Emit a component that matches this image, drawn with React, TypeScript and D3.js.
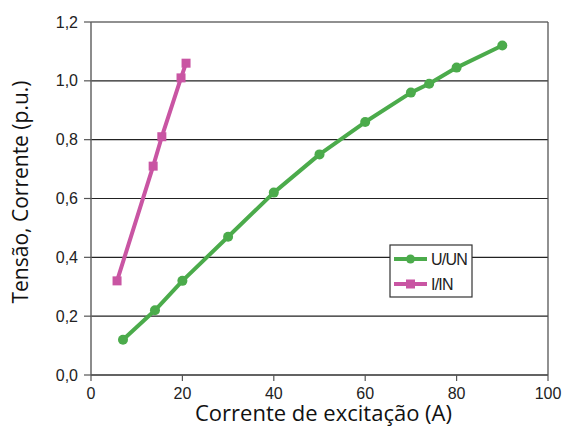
import React from "react";
import * as d3 from "d3";

// Excitation current (A) vs. per-unit values
const uunX = [7, 14, 20, 30, 40, 50, 60, 70, 74, 80, 90];
const uunY = [0.12, 0.22, 0.32, 0.47, 0.62, 0.75, 0.86, 0.96, 0.99, 1.045, 1.12];
const iinX = [5.7, 13.6, 15.5, 19.7, 20.8];
const iinY = [0.32, 0.71, 0.81, 1.01, 1.06];
const xTicks = [0, 20, 40, 60, 80, 100];
const yTicks = [0, 0.2, 0.4, 0.6, 0.8, 1.0, 1.2];
const seriesNames = ["U/UN", "I/IN"];

const W = 563;
const H = 429;
const left = 91;
const right = 548;
const top = 22;
const bottom = 375;

const green = "#4bab4b";
const magenta = "#c955a3";

export default function App() {
  const x = d3.scaleLinear().domain([0, 100]).range([left, right]);
  const y = d3.scaleLinear().domain([0, 1.2]).range([bottom, top]);
  const line = d3
    .line<[number, number]>()
    .x((d) => x(d[0]))
    .y((d) => y(d[1]));
  const uun: [number, number][] = uunX.map((v, i) => [v, uunY[i]]);
  const iin: [number, number][] = iinX.map((v, i) => [v, iinY[i]]);
  const fmt = (v: number) => v.toFixed(1).replace(".", ",");
  const tickFont = "'Liberation Sans', Arial, sans-serif";
  const titleFont = "'Open Sans', 'Noto Sans', sans-serif";

  return (
    <svg
      width={W}
      height={H}
      style={{ position: "absolute", left: 0, top: 0, background: "#fff" }}
    >
      {/* horizontal gridlines */}
      {yTicks.map((t) => (
        <line
          key={"g" + t}
          x1={left}
          x2={right}
          y1={y(t)}
          y2={y(t)}
          stroke="#222"
          strokeWidth={1.2}
        />
      ))}
      {/* frame */}
      <line x1={left} x2={left} y1={top} y2={bottom} stroke="#666" strokeWidth={1.5} />
      <line x1={right} x2={right} y1={top} y2={bottom} stroke="#555" strokeWidth={1.3} />
      <line x1={left} x2={right} y1={bottom} y2={bottom} stroke="#555" strokeWidth={1.5} />
      {/* y axis ticks */}
      {yTicks.map((t) => (
        <g key={"y" + t}>
          <line x1={left - 7} x2={left} y1={y(t)} y2={y(t)} stroke="#555" strokeWidth={1.2} />
          <text
            x={left - 13}
            y={y(t) + 5.5}
            textAnchor="end"
            fontFamily={tickFont}
            fontSize={16}
            fill="#222"
          >
            {fmt(t)}
          </text>
        </g>
      ))}
      {/* x axis ticks */}
      {xTicks.map((t) => (
        <g key={"x" + t}>
          <line x1={x(t)} x2={x(t)} y1={bottom} y2={bottom + 6} stroke="#555" strokeWidth={1.2} />
          <text
            x={x(t)}
            y={bottom + 24}
            textAnchor="middle"
            fontFamily={tickFont}
            fontSize={16}
            fill="#222"
          >
            {t}
          </text>
        </g>
      ))}
      {/* series */}
      <path d={line(uun) || ""} fill="none" stroke={green} strokeWidth={4} strokeLinejoin="round" />
      {uun.map((d, i) => (
        <circle key={"c" + i} cx={x(d[0])} cy={y(d[1])} r={5} fill={green} />
      ))}
      <path d={line(iin) || ""} fill="none" stroke={magenta} strokeWidth={4} strokeLinejoin="round" />
      {iin.map((d, i) => (
        <rect key={"s" + i} x={x(d[0]) - 4.5} y={y(d[1]) - 4.5} width={9} height={9} fill={magenta} />
      ))}
      {/* legend */}
      <rect x={390} y={245} width={82} height={52} fill="#fff" stroke="#333" strokeWidth={1.2} />
      <line x1={394} x2={427} y1={259} y2={259} stroke={green} strokeWidth={4} />
      <circle cx={410.5} cy={259} r={4.5} fill={green} />
      <line x1={394} x2={427} y1={284} y2={284} stroke={magenta} strokeWidth={4} />
      <rect x={406} y={279.5} width={9} height={9} fill={magenta} />
      <text x={431} y={265} fontFamily={tickFont} fontSize={16} fill="#222" letterSpacing={-0.8}>
        {seriesNames[0]}
      </text>
      <text x={431} y={290} fontFamily={tickFont} fontSize={16} fill="#222" letterSpacing={-0.8}>
        {seriesNames[1]}
      </text>
      {/* axis titles */}
      <text
        x={323.5}
        y={421}
        textAnchor="middle"
        fontFamily={titleFont}
        fontSize={22}
        fill="#111"
      >
        Corrente de excitação (A)
      </text>
      <text
        transform="translate(28, 192) rotate(-90)"
        textAnchor="middle"
        fontFamily={titleFont}
        fontSize={21}
        fill="#111"
      >
        Tensão, Corrente (p.u.)
      </text>
    </svg>
  );
}
